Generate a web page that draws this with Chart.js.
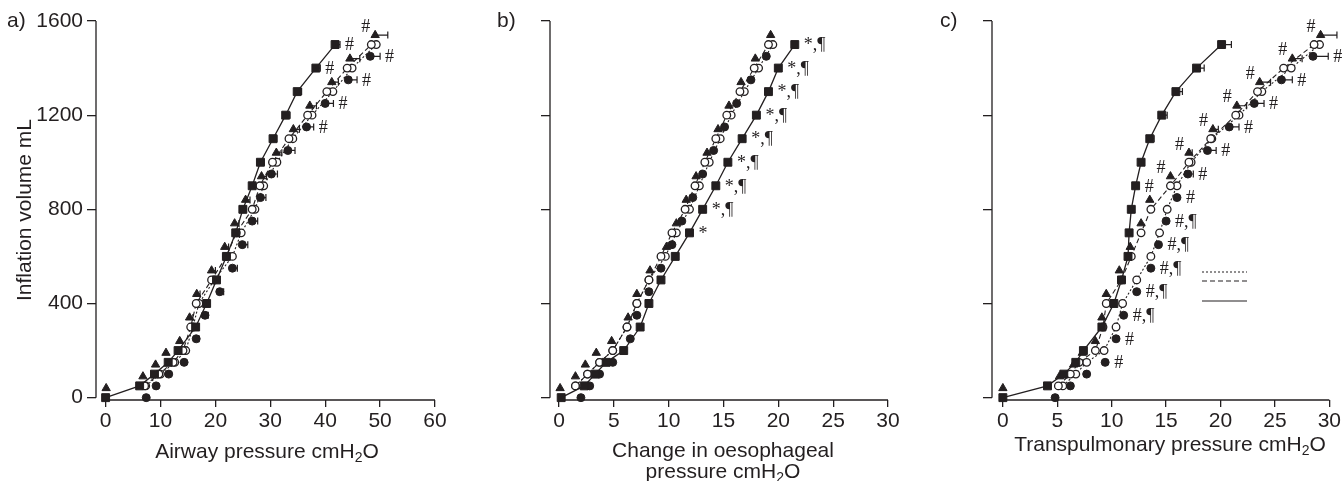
<!DOCTYPE html>
<html lang="en">
<head>
<meta charset="UTF-8">
<title>Inflation volume against pressure</title>
<script src="https://cdn.jsdelivr.net/npm/chart.js@4.4.0/dist/chart.umd.min.js"></script>
<style>
    body {
        margin: 0;
        background: #fff;
        font-family: 'Liberation Sans', Arial, sans-serif;
        color: #231f20;
    }
    .wrap { position: relative; width: 1343px; height: 481px; overflow: hidden; }
    canvas { position: absolute; top: 0; }
    .txt { position: absolute; font-size: 21px; line-height: 24px; white-space: nowrap; }
    .xt { text-align: center; transform: translateX(-50%); }
    .xt sub { font-size: 14px; vertical-align: -4px; line-height: 0; }
    .yt { transform: translate(-50%, -50%) rotate(-90deg); }
</style>
</head>
<body>
<div class="wrap">
    <canvas id="chartA" width="450" height="481" style="left:0px"></canvas>
    <canvas id="chartB" width="450" height="481" style="left:460px"></canvas>
    <canvas id="chartC" width="433" height="481" style="left:910px"></canvas>

    <div class="txt" style="left:7px; top:8px">a)</div>
    <div class="txt" style="left:497px; top:8px">b)</div>
    <div class="txt" style="left:940px; top:8px">c)</div>

    <div class="txt yt" style="left:24px; top:210px">Inflation volume mL</div>

    <div class="txt xt" style="left:267px; top:439px">Airway pressure cmH<sub>2</sub>O</div>
    <div class="txt xt" style="left:723px; top:439px; line-height:21px">Change in oesophageal<br>pressure cmH<sub>2</sub>O</div>
    <div class="txt xt" style="left:1170px; top:432px">Transpulmonary pressure cmH<sub>2</sub>O</div>
</div>

<script>
    const INK = '#231f20';

    // volume steps (mL) of each marker type, as they sit on the figure
    const volSq  = [0, 50, 100, 150, 200, 300, 400, 500, 600, 700, 800, 900, 1000, 1100, 1200, 1300, 1400, 1500];
    const volTri = [40, 90, 140, 190, 240, 340, 440, 540, 640, 740, 840, 940, 1040, 1140, 1240, 1340, 1440, 1540];
    const volOc  = [50, 100, 150, 200, 300, 400, 500, 600, 700, 800, 900, 1000, 1100, 1200, 1300, 1400, 1500];
    const volFc  = [0, 50, 100, 150, 250, 350, 450, 550, 650, 750, 850, 950, 1050, 1150, 1250, 1350, 1450];

    const yTicks  = [0, 400, 800, 1200, 1600];
    const aXTicks = [0, 10, 20, 30, 40, 50, 60];
    const bXTicks = [0, 5, 10, 15, 20, 25, 30];
    const cXTicks = [0, 5, 10, 15, 20, 25, 30];

    // a) airway pressure
    const aSq     = [0, 6.2, 8.9, 11.4, 13.2, 16.4, 18.4, 20.2, 22.0, 23.7, 25.0, 26.7, 28.2, 30.5, 32.8, 34.9, 38.3, 41.8];
    const aSqErr  = [0, 0, 0, 0, 0, 0.5, 0.5, 0.5, 0.5, 0.5, 0.6, 0.6, 0.7, 0.7, 0.8, 0.8, 0.8, 0.9];
    const aSqMark = ['', '', '', '', '', '', '', '', '', '', '', '', '', '', '', '', '#', '#'];
    const aTri    = [0.1, 6.8, 9.1, 11.0, 13.5, 15.3, 16.6, 19.3, 21.7, 23.5, 25.5, 28.4, 31.1, 34.2, 37.2, 41.2, 44.5, 49.1];
    const aTriErr = [0, 0, 0, 0, 0, 0.6, 0.6, 0.7, 0.7, 0.8, 0.8, 0.9, 1.0, 1.1, 1.2, 1.2, 1.8, 2.3];
    const aTriMark = ['', '', '', '', '', '', '', '', '', '', '', '', '', '', '', '', '', '#'];
    const aOc1    = [7.1, 9.7, 12.3, 14.1, 15.5, 16.5, 19.3, 22.0, 23.8, 26.7, 28.1, 30.4, 33.4, 36.8, 40.3, 44.0, 48.4];
    const aOc2    = [7.3, 10.0, 12.6, 14.6, 15.9, 17.0, 19.8, 23.1, 24.7, 27.2, 28.8, 31.2, 34.1, 37.6, 41.4, 44.9, 49.3];
    const aFc     = [7.4, 9.2, 11.5, 14.3, 16.5, 18.1, 20.8, 23.1, 24.9, 26.7, 28.2, 30.2, 33.2, 36.6, 40.0, 44.2, 48.2];
    const aFcErr  = [0, 0, 0, 0, 0.5, 0.6, 0.7, 0.9, 1.0, 1.0, 1.0, 1.1, 1.3, 1.3, 1.5, 1.6, 1.8];
    const aFcMark = ['', '', '', '', '', '', '', '', '', '', '', '', '', '#', '#', '#', '#'];

    // b) change in oesophageal pressure
    const bSq     = [0.2, 2.3, 3.3, 4.3, 5.9, 7.4, 8.2, 9.3, 10.6, 11.9, 13.1, 14.3, 15.4, 16.7, 18.0, 19.1, 20.0, 21.5];
    const bSqErr  = [0, 0, 0, 0, 0, 0, 0, 0, 0, 0, 0, 0, 0, 0, 0, 0, 0, 0];
    const bSqMark = ['', '', '', '', '', '', '', '', '', '*', '*,¶', '*,¶', '*,¶', '*,¶', '*,¶', '*,¶', '*,¶', '*,¶'];
    const bTri    = [0.1, 1.5, 2.4, 3.4, 4.8, 6.3, 7.1, 8.3, 9.8, 10.7, 11.6, 12.5, 13.5, 14.5, 15.5, 16.6, 17.9, 19.3];
    const bTriErr = [0, 0, 0, 0, 0, 0, 0, 0, 0, 0, 0, 0, 0, 0, 0, 0, 0, 0];
    const bTriMark = ['', '', '', '', '', '', '', '', '', '', '', '', '', '', '', '', '', ''];
    const bOc1    = [1.5, 2.6, 3.7, 4.9, 6.2, 7.1, 8.2, 9.3, 10.3, 11.5, 12.4, 13.3, 14.3, 15.3, 16.5, 17.8, 19.1];
    const bOc2    = [1.5, 2.6, 3.7, 4.9, 6.2, 7.1, 8.2, 9.7, 10.7, 11.9, 12.8, 13.7, 14.7, 15.7, 16.9, 18.2, 19.5];
    const bFc     = [2.0, 2.8, 3.7, 4.9, 6.5, 7.1, 8.2, 9.3, 10.3, 11.2, 12.2, 13.1, 14.1, 15.1, 16.2, 17.5, 18.9];
    const bFcErr  = [0, 0, 0, 0, 0, 0, 0, 0, 0, 0, 0, 0, 0, 0, 0, 0, 0];
    const bFcMark = ['', '', '', '', '', '', '', '', '', '', '', '', '', '', '', '', ''];

    // c) transpulmonary pressure
    const cSq     = [0, 4.1, 5.6, 6.7, 7.4, 9.1, 10.2, 10.9, 11.5, 11.6, 11.8, 12.2, 12.7, 13.5, 14.6, 15.9, 17.8, 20.1];
    const cSqErr  = [0, 0, 0, 0, 0, 0, 0, 0, 0, 0, 0, 0, 0.3, 0.4, 0.5, 0.6, 0.7, 0.9];
    const cSqMark = ['', '', '', '', '', '', '', '', '', '', '', '#', '', '', '', '', '', ''];
    const cTri    = [0, 5.2, 6.5, 7.3, 8.5, 9.1, 9.5, 10.7, 11.7, 12.7, 13.5, 15.4, 17.1, 19.3, 21.5, 23.6, 26.6, 29.2];
    const cTriErr = [0, 0, 0, 0, 0, 0, 0, 0, 0, 0, 0, 0, 0.3, 0.5, 0.9, 1.0, 0.9, 1.5];
    const cTriMark = ['', '', '', '', '', '', '', '', '', '', '', '#', '#', '#', '#', '#', '#', '#'];
    const cOc1    = [5.1, 6.2, 7.0, 8.5, 9.2, 9.5, 10.9, 11.8, 12.7, 13.6, 15.4, 17.1, 19.1, 21.4, 23.4, 25.8, 28.6];
    const cOc2    = [5.5, 6.7, 7.7, 9.3, 10.4, 11.0, 12.3, 13.6, 14.4, 15.1, 16.0, 17.3, 19.2, 21.7, 23.8, 26.5, 29.1];
    const cFc     = [4.8, 6.2, 7.7, 9.4, 10.4, 11.1, 12.3, 13.6, 14.3, 15.0, 16.0, 17.0, 18.8, 20.8, 23.1, 25.6, 28.5];
    const cFcErr  = [0.2, 0, 0, 0, 0, 0, 0, 0, 0, 0, 0.2, 0.5, 0.8, 0.9, 0.9, 1.0, 1.4];
    const cFcMark = ['', '', '', '#', '#', '#,¶', '#,¶', '#,¶', '#,¶', '#,¶', '#', '#', '#', '#', '#', '#', '#'];

    Chart.defaults.font.family = "'Liberation Sans', Arial, sans-serif";
    Chart.defaults.font.size = 21;
    Chart.defaults.color = INK;

    function pts(xs, ys) {
        return xs.map((x, i) => ({ x: x, y: ys[i] }));
    }

    // error bars to the right and the #, *, ¶ marks next to points
    const markPlugin = {
        id: 'marks',
        afterDatasetsDraw(chart) {
            const ctx = chart.ctx;
            const xs = chart.scales.x;
            ctx.save();
            ctx.strokeStyle = INK;
            ctx.fillStyle = INK;
            ctx.lineWidth = 1.2;
            chart.data.datasets.forEach((ds, di) => {
                const meta = chart.getDatasetMeta(di);
                meta.data.forEach((el, i) => {
                    let end = el.x;
                    const e = ds.errX ? ds.errX[i] : 0;
                    if (e > 0) {
                        end = xs.getPixelForValue(ds.data[i].x + e);
                        ctx.beginPath();
                        ctx.moveTo(el.x, el.y);
                        ctx.lineTo(end, el.y);
                        ctx.moveTo(end, el.y - 3.5);
                        ctx.lineTo(end, el.y + 3.5);
                        ctx.stroke();
                    }
                    const t = ds.marks ? ds.marks[i] : '';
                    if (!t) return;
                    ctx.font = "18px 'Liberation Serif', serif";
                    ctx.textBaseline = 'middle';
                    if (ds.markSide === 'upleft') {
                        ctx.textAlign = 'right';
                        ctx.fillText(t, el.x - 5, el.y - 8);
                    } else {
                        ctx.textAlign = 'left';
                        ctx.fillText(t, Math.max(end, el.x + 4) + 5, el.y + 1);
                    }
                });
            });
            ctx.restore();
        }
    };

    // detached axis lines, Prism style
    const axisPlugin = {
        id: 'axisLines',
        beforeDatasetsDraw(chart) {
            const ctx = chart.ctx;
            const xs = chart.scales.x, ys = chart.scales.y;
            const a = chart.chartArea;
            ctx.save();
            ctx.strokeStyle = INK;
            ctx.lineWidth = 1.3;
            ctx.beginPath();
            ctx.moveTo(a.left, ys.getPixelForValue(1600));
            ctx.lineTo(a.left, ys.getPixelForValue(0));
            ctx.moveTo(xs.getPixelForValue(0), a.bottom);
            ctx.lineTo(xs.getPixelForValue(xs.max), a.bottom);
            ctx.stroke();
            ctx.restore();
        }
    };

    // unlabelled line key in panel c
    const keyPlugin = {
        id: 'lineKey',
        afterDraw(chart) {
            const ctx = chart.ctx;
            ctx.save();
            ctx.strokeStyle = INK;
            ctx.lineWidth = 1.2;
            [[272, [2, 2]], [281, [5, 3]], [301, []]].forEach(k => {
                ctx.setLineDash(k[1]);
                ctx.beginPath();
                ctx.moveTo(292, k[0]);
                ctx.lineTo(337, k[0]);
                ctx.stroke();
            });
            ctx.restore();
        }
    };

    function makeDatasets(p) {
        const common = { clip: false, pointBorderColor: INK, borderColor: INK, pointBackgroundColor: INK, pointBorderWidth: 1 };
        return [
            Object.assign({}, common, { label: 'sq', data: pts(p.sq, volSq), showLine: true, borderWidth: 1.3,
                pointStyle: 'rect', pointRadius: 5.6, errX: p.sqErr, marks: p.sqMark, markSide: 'right' }),
            Object.assign({}, common, { label: 'fc', data: pts(p.fc, volFc), showLine: false,
                pointStyle: 'circle', pointRadius: 4, errX: p.fcErr, marks: p.fcMark, markSide: 'right' }),
            Object.assign({}, common, { label: 'tri', data: pts(p.tri, volTri), showLine: false,
                pointStyle: 'triangle', pointRadius: 4.8, errX: p.triErr, marks: p.triMark, markSide: 'upleft' }),
            Object.assign({}, common, { label: 'oc1', data: pts(p.oc1, volOc), showLine: true, borderWidth: 1.1,
                borderDash: [5, 3], pointStyle: 'circle', pointRadius: 3.8, pointBackgroundColor: '#fff', pointBorderWidth: 1.3 }),
            Object.assign({}, common, { label: 'oc2', data: pts(p.oc2, volOc), showLine: true, borderWidth: 1.1,
                borderDash: [2, 2], pointStyle: 'circle', pointRadius: 3.8, pointBackgroundColor: '#fff', pointBorderWidth: 1.3 })
        ];
    }

    function makeChart(id, p, opt) {
        return new Chart(document.getElementById(id), {
            type: 'scatter',
            data: { datasets: makeDatasets(p) },
            options: {
                responsive: false,
                animation: false,
                layout: { padding: { top: 21, right: opt.padRight, left: 0, bottom: 0 } },
                plugins: { legend: { display: false }, tooltip: { enabled: false } },
                scales: {
                    x: {
                        type: 'linear',
                        min: opt.xMin,
                        max: opt.xTicks[opt.xTicks.length - 1],
                        border: { display: false },
                        grid: { drawOnChartArea: false, drawTicks: true, tickLength: 7, color: INK, lineWidth: 1.3 },
                        ticks: { padding: 2, color: INK, maxRotation: 0, autoSkip: false },
                        afterBuildTicks: s => { s.ticks = opt.xTicks.map(v => ({ value: v })); },
                        afterFit: s => { s.height = 81; }
                    },
                    y: {
                        type: 'linear',
                        min: -10,
                        max: 1600,
                        border: { display: false },
                        grid: { drawOnChartArea: false, drawTicks: true, tickLength: 9, color: INK, lineWidth: 1.3 },
                        ticks: {
                            padding: 4, color: INK, autoSkip: false,
                            callback: v => opt.yLabels ? v : ''
                        },
                        afterBuildTicks: s => { s.ticks = yTicks.map(v => ({ value: v })); },
                        afterFit: s => { s.width = opt.yWidth; }
                    }
                }
            },
            plugins: opt.extra ? [axisPlugin, markPlugin, keyPlugin] : [axisPlugin, markPlugin]
        });
    }

    makeChart('chartA', {
        sq: aSq, sqErr: aSqErr, sqMark: aSqMark, tri: aTri, triErr: aTriErr, triMark: aTriMark,
        oc1: aOc1, oc2: aOc2, fc: aFc, fcErr: aFcErr, fcMark: aFcMark
    }, { xMin: -1.75, xTicks: aXTicks, yWidth: 96, padRight: 15, yLabels: true });

    makeChart('chartB', {
        sq: bSq, sqErr: bSqErr, sqMark: bSqMark, tri: bTri, triErr: bTriErr, triMark: bTriMark,
        oc1: bOc1, oc2: bOc2, fc: bFc, fcErr: bFcErr, fcMark: bFcMark
    }, { xMin: -0.82, xTicks: bXTicks, yWidth: 90, padRight: 22, yLabels: false });

    makeChart('chartC', {
        sq: cSq, sqErr: cSqErr, sqMark: cSqMark, tri: cTri, triErr: cTriErr, triMark: cTriMark,
        oc1: cOc1, oc2: cOc2, fc: cFc, fcErr: cFcErr, fcMark: cFcMark
    }, { xMin: -1.0, xTicks: cXTicks, yWidth: 82, padRight: 12, yLabels: false, extra: true });
</script>
</body>
</html>
